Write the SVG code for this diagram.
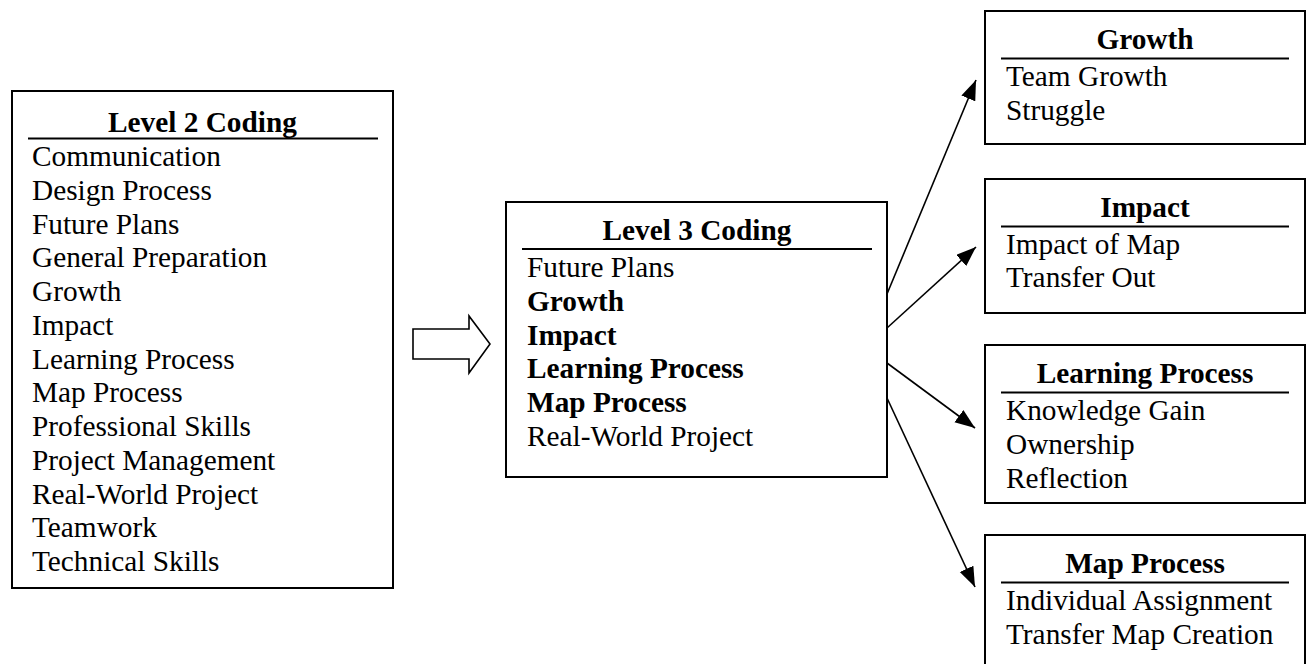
<svg xmlns="http://www.w3.org/2000/svg" width="1306" height="664" viewBox="0 0 1306 664">
<style>
.box{fill:#fff;stroke:#000;stroke-width:2}
.rule{stroke:#000;stroke-width:1.8}
text{font-family:"Liberation Serif","Times New Roman",serif;font-size:29.3px;fill:#000}
.t{font-weight:bold;text-anchor:middle}
.b{font-weight:bold}
.conn{stroke:#000;stroke-width:1.6;fill:none}
</style>
<defs>
<marker id="ah" markerUnits="userSpaceOnUse" markerWidth="22" markerHeight="16" refX="20" refY="7.5" orient="auto">
<path d="M0,0 L20,7.5 L0,15 z" fill="#000"/>
</marker>
</defs>
<rect width="1306" height="664" fill="#fff"/>
<g id="level2">
<rect class="box" x="12" y="91" width="381" height="497"/>
<text class="t" x="202.5" y="132">Level 2 Coding</text>
<line class="rule" x1="28" y1="138.5" x2="378" y2="138.5"/>
<text x="32" y="166">Communication</text>
<text x="32" y="199.75">Design Process</text>
<text x="32" y="233.5">Future Plans</text>
<text x="32" y="267.25">General Preparation</text>
<text x="32" y="301">Growth</text>
<text x="32" y="334.75">Impact</text>
<text x="32" y="368.5">Learning Process</text>
<text x="32" y="402.25">Map Process</text>
<text x="32" y="436">Professional Skills</text>
<text x="32" y="469.75">Project Management</text>
<text x="32" y="503.5">Real-World Project</text>
<text x="32" y="537.25">Teamwork</text>
<text x="32" y="571">Technical Skills</text>
</g>
<g id="level3">
<rect class="box" x="506" y="202" width="381" height="275"/>
<text class="t" x="697" y="239.5">Level 3 Coding</text>
<line class="rule" x1="522" y1="249" x2="872" y2="249"/>
<text x="527" y="277">Future Plans</text>
<text class="b" x="527" y="310.75">Growth</text>
<text class="b" x="527" y="344.5">Impact</text>
<text class="b" x="527" y="378.25">Learning Process</text>
<text class="b" x="527" y="412">Map Process</text>
<text x="527" y="445.75">Real-World Project</text>
</g>
<g id="growth">
<rect class="box" x="985" y="11" width="320" height="133"/>
<text class="t" x="1145" y="49">Growth</text>
<line class="rule" x1="1001" y1="58.5" x2="1289" y2="58.5"/>
<text x="1006" y="86">Team Growth</text>
<text x="1006" y="119.5">Struggle</text>
</g>
<g id="impact">
<rect class="box" x="985" y="179" width="320" height="134"/>
<text class="t" x="1145" y="217">Impact</text>
<line class="rule" x1="1001" y1="226.5" x2="1289" y2="226.5"/>
<text x="1006" y="253.5">Impact of Map</text>
<text x="1006" y="287">Transfer Out</text>
</g>
<g id="learning">
<rect class="box" x="985" y="345" width="320" height="158"/>
<text class="t" x="1145" y="383">Learning Process</text>
<line class="rule" x1="1001" y1="392.5" x2="1289" y2="392.5"/>
<text x="1006" y="420">Knowledge Gain</text>
<text x="1006" y="453.75">Ownership</text>
<text x="1006" y="487.5">Reflection</text>
</g>
<g id="mapprocess">
<rect class="box" x="985" y="535" width="320" height="135"/>
<text class="t" x="1145" y="573">Map Process</text>
<line class="rule" x1="1001" y1="582.5" x2="1289" y2="582.5"/>
<text x="1006" y="610">Individual Assignment</text>
<text x="1006" y="643.75">Transfer Map Creation</text>
</g>
<g id="connectors">
<polygon points="413,329 469,329 469,316 490,344 469,373 469,359 413,359" fill="#fff" stroke="#000" stroke-width="1.6"/>
<line class="conn" x1="887" y1="294" x2="976" y2="80" marker-end="url(#ah)"/>
<line class="conn" x1="887" y1="328" x2="976" y2="247" marker-end="url(#ah)"/>
<line class="conn" x1="887" y1="363" x2="975" y2="428" marker-end="url(#ah)"/>
<line class="conn" x1="887" y1="398" x2="975" y2="587" marker-end="url(#ah)"/>
</g>
</svg>
